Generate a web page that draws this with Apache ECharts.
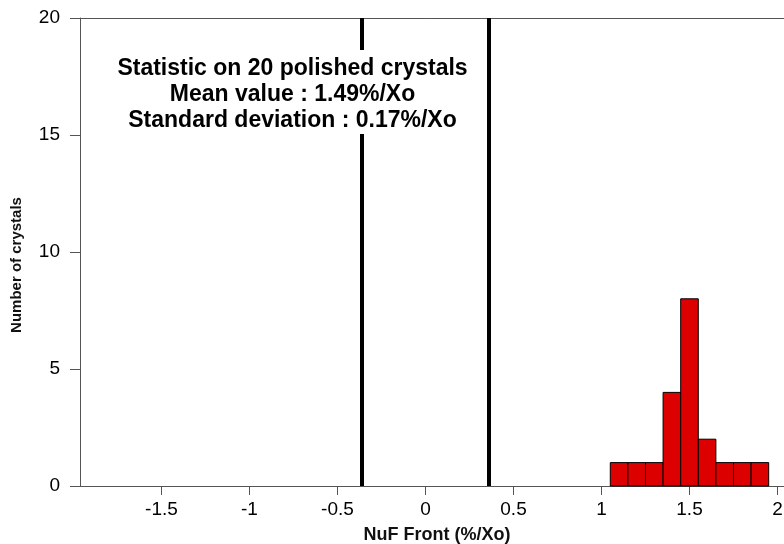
<!DOCTYPE html>
<html>
<head>
<meta charset="utf-8">
<script src="https://cdn.jsdelivr.net/npm/echarts@6/dist/echarts.min.js"></script>
<style>
  html, body { margin: 0; padding: 0; background: #fff; }
  #chart { width: 784px; height: 544px; }
</style>
</head>
<body>
<div id="chart"></div>
<script>
// histogram bins (left edge, width 0.1) and counts
var binStart = [1.05, 1.15, 1.25, 1.35, 1.45, 1.55, 1.65, 1.75, 1.85];
var binCount = [1, 1, 1, 4, 8, 2, 1, 1, 1];
var binWidth = 0.1;
// vertical limit lines
var limits = [-0.36, 0.36];
var xTicks = [-1.5, -1, -0.5, 0, 0.5, 1, 1.5, 2];
var noteLines = [
    'Statistic on 20 polished crystals',
    'Mean value : 1.49%/Xo',
    'Standard deviation : 0.17%/Xo'
];

var bins = binStart.map(function (s, i) {
    return [s, s + binWidth, binCount[i]];
});

var chart = echarts.init(document.getElementById('chart'));
var axisColor = '#555';

var option = {
    animation: false,
    grid: { left: 80, right: 0, top: 18, bottom: 58, outerBoundsMode: 'none' },
    xAxis: [{
        type: 'value',
        min: -1.963,
        max: 2.037,
        name: 'NuF Front (%/Xo)',
        nameLocation: 'middle',
        nameGap: 40,
        nameTextStyle: { fontFamily: 'Liberation Sans', fontWeight: 'bold', fontSize: 18, color: '#111', padding: [0, 0, 0, 10] },
        axisLine: { show: true, onZero: false, lineStyle: { color: axisColor, width: 1 } },
        axisTick: { show: true, length: 9, customValues: xTicks, lineStyle: { color: axisColor } },
        axisLabel: {
            customValues: xTicks,
            margin: 14,
            fontFamily: 'Liberation Sans', fontSize: 19, color: '#000'
        },
        splitLine: { show: false }
    }, {
        type: 'value',
        position: 'top',
        min: -1.963,
        max: 2.037,
        axisLine: { show: true, onZero: false, lineStyle: { color: axisColor, width: 1 } },
        axisTick: { show: false },
        axisLabel: { show: false },
        splitLine: { show: false }
    }],
    yAxis: {
        type: 'value',
        min: 0,
        max: 20,
        interval: 5,
        name: 'Number of crystals',
        nameLocation: 'middle',
        nameGap: 56,
        nameTextStyle: { fontFamily: 'Liberation Sans Narrow, Liberation Sans', fontWeight: 'bold', fontSize: 15, color: '#111', padding: [0, 26, 0, 0] },
        axisLine: { show: true, onZero: false, lineStyle: { color: axisColor, width: 1 } },
        axisTick: { show: true, length: 10, lineStyle: { color: axisColor } },
        axisLabel: { margin: 20, fontFamily: 'Liberation Sans', fontSize: 19, color: '#000' },
        splitLine: { show: false }
    },
    graphic: [{
        type: 'text',
        z: 100,
        x: 292.5,
        y: 50,
        style: {
            text: noteLines.join('\n'),
            font: 'bold 23px "Liberation Sans"',
            fill: '#000',
            align: 'center',
            verticalAlign: 'top',
            lineHeight: 26,
            backgroundColor: '#fff',
            padding: [6, 4, 0, 4]
        }
    }],
    series: [{
        type: 'custom',
        data: bins,
        encode: { x: [0, 1], y: 2 },
        renderItem: function (params, api) {
            var p0 = api.coord([api.value(0), 0]);
            var p1 = api.coord([api.value(1), api.value(2)]);
            return {
                type: 'rect',
                shape: { x: p0[0], y: p1[1], width: p1[0] - p0[0], height: p0[1] - p1[1] },
                style: { fill: '#dd0000', stroke: '#000', lineWidth: 1 }
            };
        }
    }, {
        type: 'line',
        data: [],
        markLine: {
            silent: true,
            symbol: 'none',
            label: { show: false },
            lineStyle: { color: '#000', width: 4, type: 'solid' },
            data: limits.map(function (v) { return { xAxis: v }; })
        }
    }]
};

chart.setOption(option);
</script>
</body>
</html>
